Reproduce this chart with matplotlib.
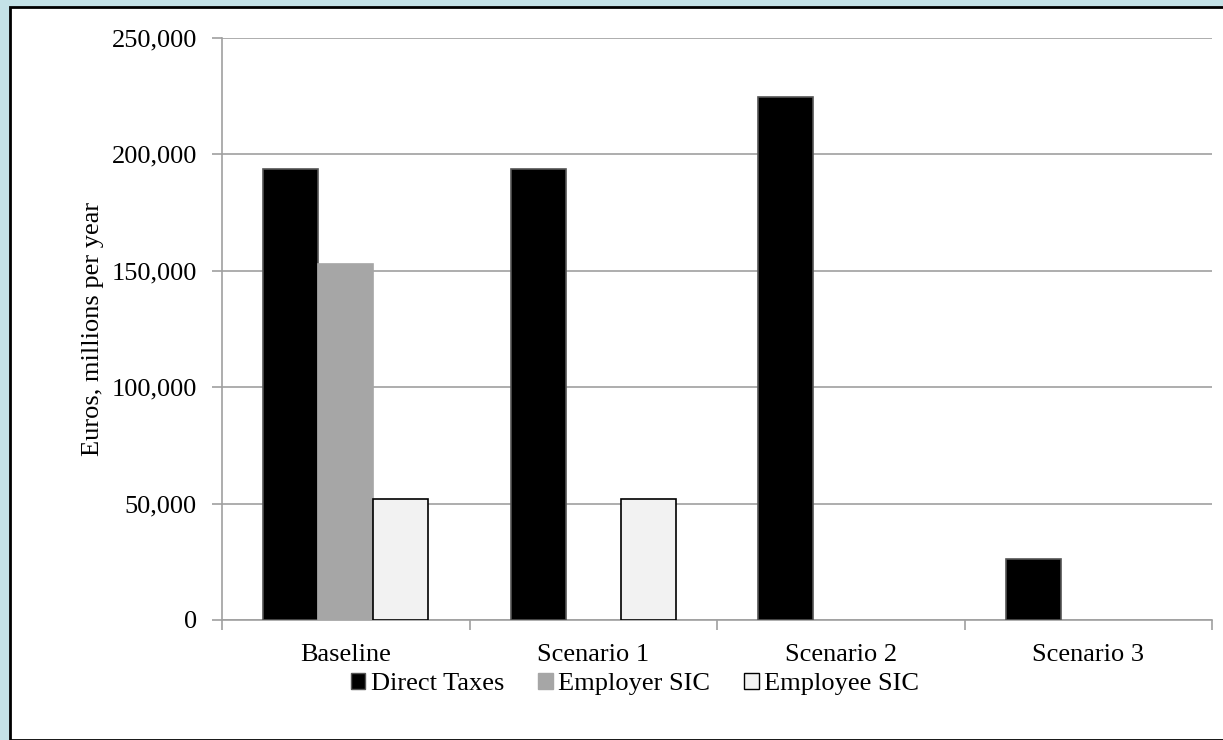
import matplotlib.pyplot as plt
import matplotlib.patches as patches
from matplotlib.ticker import FuncFormatter, MultipleLocator
import numpy as np

plt.rcParams['font.family'] = ['Liberation Serif', 'DejaVu Serif']

# Revenue by scenario (euros, millions per year)
categories = ['Baseline', 'Scenario 1', 'Scenario 2', 'Scenario 3']
direct_taxes = [193500, 193500, 224500, 26000]
employer_sic = [153000, 0, 0, 0]
employee_sic = [52000, 52000, 0, 0]
series_names = ['Direct Taxes', 'Employer SIC', 'Employee SIC']

FS = 19

fig = plt.figure(figsize=(12.23, 7.40), dpi=100)
fig.patch.set_facecolor('#C4E2E7')

# white chart area with dark border, kept underneath the axes
frame = patches.Rectangle((10 / 1223, 0), 1.0, 1 - 7 / 740,
                          transform=fig.transFigure, facecolor='white',
                          edgecolor='black', linewidth=2, zorder=-1)
fig.patches.append(frame)

ax = fig.add_axes([222 / 1223, 1 - 620 / 740, 990 / 1223, 582.5 / 740])
ax.set_facecolor('none')

x = np.arange(len(categories))
w = 0.222
styles = [
    dict(color='black', edgecolor='#555555'),
    dict(color='#A6A6A6', edgecolor='#A6A6A6'),
    dict(color='#F2F2F2', edgecolor='black'),
]
handles = []
for i, (vals, st) in enumerate(zip([direct_taxes, employer_sic, employee_sic], styles)):
    lw = [1.2 if v else 0 for v in vals]
    ax.bar(x + (i - 1) * w, vals, width=w, color=st['color'],
           edgecolor=st['edgecolor'], linewidth=lw, zorder=3,
           label=series_names[i])
    handles.append(patches.Patch(facecolor=st['color'],
                                 edgecolor=st['edgecolor'], linewidth=1))

ax.set_xlim(-0.5, len(categories) - 0.5)
ax.set_ylim(0, 250000)
ax.yaxis.set_major_locator(MultipleLocator(50000))
ax.yaxis.set_major_formatter(FuncFormatter(lambda v, p: f'{int(v):,}'))
ax.grid(axis='y', color='#A0A0A0', linewidth=1.2, zorder=0)
ax.set_axisbelow(True)

ax.set_xticks(x)
ax.set_xticklabels(categories)
ax.set_xticks(np.arange(len(categories) + 1) - 0.5, minor=True)
ax.tick_params(axis='x', which='major', length=0, pad=17, labelsize=FS)
ax.tick_params(axis='x', which='minor', length=7, width=1.2, color='#A0A0A0')
ax.tick_params(axis='y', length=7, width=1.2, color='#A0A0A0', pad=11,
               labelsize=FS)

for side in ['top', 'right']:
    ax.spines[side].set_visible(False)
for side in ['left', 'bottom']:
    ax.spines[side].set_color('#A0A0A0')
    ax.spines[side].set_linewidth(1.2)

ax.set_ylabel('Euros, millions per year', fontsize=FS)
ax.yaxis.set_label_coords(-0.119, 0.5)

fig.legend(handles, series_names, loc='center', ncol=3,
           bbox_to_anchor=(635 / 1223, 1 - 684 / 740), frameon=False,
           fontsize=FS, handlelength=0.55, handleheight=0.55,
           handletextpad=0.2, columnspacing=1.3)

fig.savefig('out.png', dpi=100, facecolor=fig.get_facecolor())
